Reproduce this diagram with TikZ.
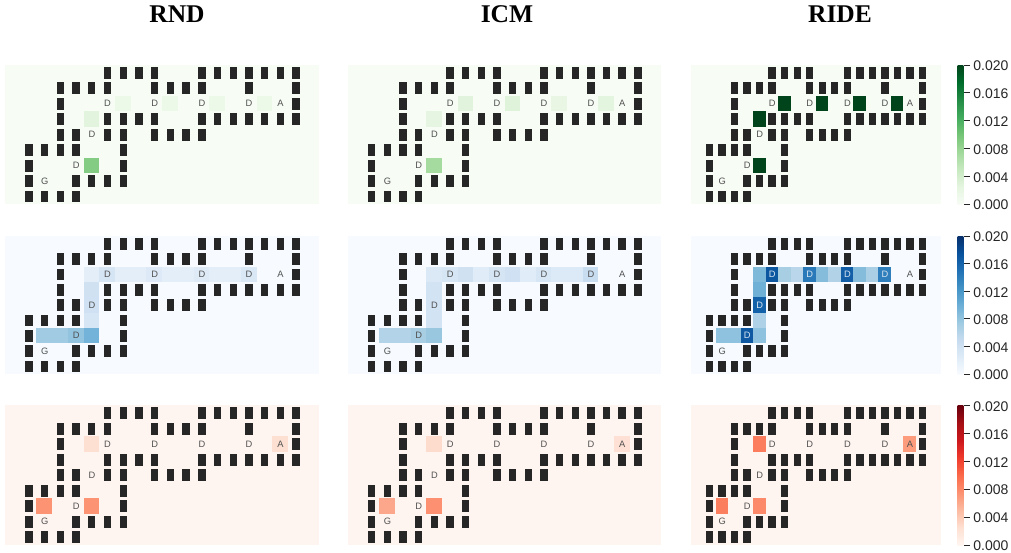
\documentclass[tikz,border=0pt]{standalone}
\usepackage{fontspec}
\setmainfont{Liberation Sans}
\newfontfamily\titlefont{Liberation Serif}[BoldFont={Liberation Serif Bold}]
\definecolor{wallc}{HTML}{262626}
\definecolor{labc}{HTML}{505050}
\definecolor{labl}{HTML}{D8E6F2}
\definecolor{gA}{HTML}{F7FCF5}\definecolor{gB}{HTML}{E5F5E0}\definecolor{gC}{HTML}{C7E9C0}
\definecolor{gD}{HTML}{A1D99B}\definecolor{gE}{HTML}{74C476}\definecolor{gF}{HTML}{41AB5D}
\definecolor{gG}{HTML}{238B45}\definecolor{gH}{HTML}{006D2C}\definecolor{gI}{HTML}{00441B}
\definecolor{bA}{HTML}{F7FBFF}\definecolor{bB}{HTML}{DEEBF7}\definecolor{bC}{HTML}{C6DBEF}
\definecolor{bD}{HTML}{9ECAE1}\definecolor{bE}{HTML}{6BAED6}\definecolor{bF}{HTML}{4292C6}
\definecolor{bG}{HTML}{2171B5}\definecolor{bH}{HTML}{08519C}\definecolor{bI}{HTML}{08306B}
\definecolor{rA}{HTML}{FFF5F0}\definecolor{rB}{HTML}{FEE0D2}\definecolor{rC}{HTML}{FCBBA1}
\definecolor{rD}{HTML}{FC9272}\definecolor{rE}{HTML}{FB6A4A}\definecolor{rF}{HTML}{EF3B2C}
\definecolor{rG}{HTML}{CB181D}\definecolor{rH}{HTML}{A50F15}\definecolor{rI}{HTML}{67000D}
\newcommand{\declbar}[2]{\pgfdeclareverticalshading{#1}{100bp}{color(0bp)=(#2A); color(25bp)=(#2A); color(31.25bp)=(#2B); color(37.5bp)=(#2C); color(43.75bp)=(#2D); color(50bp)=(#2E); color(56.25bp)=(#2F); color(62.5bp)=(#2G); color(68.75bp)=(#2H); color(75bp)=(#2I); color(100bp)=(#2I)}}
\declbar{greensbar}{g}
\declbar{bluesbar}{b}
\declbar{redsbar}{r}
% wall cells: column/row
\newcommand{\wallcells}{6/0,7/0,8/0,9/0,12/0,13/0,14/0,15/0,16/0,17/0,18/0,
3/1,4/1,5/1,6/1,9/1,10/1,11/1,12/1,15/1,18/1,
3/2,18/2,
3/3,6/3,7/3,8/3,9/3,12/3,13/3,14/3,15/3,16/3,17/3,18/3,
3/4,4/4,6/4,7/4,9/4,10/4,11/4,12/4,
1/5,2/5,3/5,4/5,7/5,
1/6,7/6,
1/7,4/7,5/7,6/7,7/7,
1/8,2/8,3/8,4/8}
\tikzset{
  wall/.style={fill=wallc,draw=none},
  celltext/.style={font=\fontsize{9.3}{9.3}\selectfont,inner sep=0pt,anchor=center},
  title/.style={font=\titlefont\bfseries\fontsize{25.5}{26}\selectfont,text=black,inner sep=0pt,anchor=base},
  ticklab/.style={font=\fontsize{14}{14}\selectfont,text=wallc,anchor=west,inner sep=0pt},
  tickline/.style={draw=wallc,line width=0.9pt}
}
% #1 id, #2 x0, #3 y0, #4 cell w, #5 cell h, #6 background, #7 cells col/row/html, #8 colour of the D letters
\newcommand{\panel}[8]{
  \fill[#6] (#2,#3) rectangle ++({20*#4},{9*#5});
  \foreach \c/\r/\h in {#7}{
    \definecolor{cellc}{HTML}{\h}
    \fill[cellc] ({#2+\c*#4},{#3+\r*#5}) rectangle ++(#4,#5);
  }
  \foreach \c/\r in \wallcells{
    \fill[wall] ({#2+(\c+.5)*#4+.3-3.7},{#3+(\r+.5)*#5+.2-5.9}) rectangle ++(7.4,11.8);
  }
  \foreach \c/\r in {6/2,9/2,12/2,15/2,5/4,4/6}{
    \node[celltext,text=#8] (d-#1-\c-\r) at ({#2+(\c+.5)*#4+.4},{#3+(\r+.5)*#5}) {D};
  }
  \node[celltext,text=labc] (a-#1) at ({#2+17.5*#4+.4},{#3+2.5*#5}) {A};
  \node[celltext,text=labc] (g-#1) at ({#2+2.5*#4+.4},{#3+7.5*#5}) {G};
}
% #1 id, #2 top y, #3 height, #4 shading
\newcommand{\cbar}[4]{
  \shade[shading=#4] (957.7,#2) rectangle (963.3,{#2+#3});
  \foreach \i/\t in {0/0.020,1/0.016,2/0.012,3/0.008,4/0.004,5/0.000}{
    \draw[tickline] (964,{#2+\i*#3/5}) -- (969.5,{#2+\i*#3/5});
    \node[ticklab] (cb-#1-\i) at (973.2,{#2+\i*#3/5+1}) {\t};
  }
}
\begin{document}
\begin{tikzpicture}[x=1pt,y=-1pt]
\useasboundingbox (0,0) rectangle (1011,552);
\node[title] (t1) at (177,22) {RND};
\node[title] (t2) at (507,22) {ICM};
\node[title] (t3) at (840,22) {RIDE};
% greens
\panel{g1}{5}{65}{15.72}{15.45}{gA}{7/2/ECF8E8,10/2/ECF8E8,13/2/ECF8E8,16/2/ECF8E8,5/3/E2F4DD,5/6/84CC83}{labc}
\panel{g2}{348}{65}{15.65}{15.45}{gA}{7/2/E1F3DC,10/2/DFF3DA,13/2/E8F6E3,16/2/E4F5DF,5/3/E6F5E1,5/6/A5DB9F}{labc}
\panel{g3}{690.5}{65}{12.52}{15.45}{gA}{7/2/00441B,10/2/00441B,13/2/00441B,16/2/00441B,5/3/00441B,5/6/00441B}{labc}
% blues
\panel{b1}{5}{236}{15.72}{15.33}{bA}{2/6/A0CBE3,3/6/A0CBE3,4/6/92C4E0,5/6/74B3D9,5/5/D6E6F4,5/4/CFE1F2,5/3/D0E1F2,5/2/E3EEF9,6/2/D6E5F4,7/2/E3EEF9,8/2/E3EEF9,9/2/DDE9F6,10/2/E3EEF9,11/2/E3EEF9,12/2/DEEBF7,13/2/E3EEF9,14/2/E3EEF9,15/2/DAE8F5}{labc}
\panel{b2}{348}{236}{15.65}{15.33}{bA}{2/6/B3D3E8,3/6/B3D3E8,4/6/A8CEE4,5/6/99C7E0,5/5/D2E3F3,5/4/D2E3F3,5/3/D2E3F3,5/2/DBE9F6,6/2/D6E6F4,7/2/D0E1F2,8/2/E0ECF8,9/2/D6E5F4,10/2/CFE1F2,11/2/E0ECF8,12/2/D6E6F4,13/2/DCE9F6,14/2/DCE9F6,15/2/C9DDF0}{labc}
\panel{b3}{690.5}{236}{12.52}{15.33}{bA}{2/6/8FC2DE,3/6/8FC2DE,4/6/0E59A2,5/6/8FC2DE,5/5/AFD1E7,5/4/1361A9,5/3/6FB0D7,5/2/7FB9DA,6/2/0D57A1,7/2/A8CEE4,8/2/BAD6EB,9/2/2A7AB9,10/2/85BCDC,11/2/B2D2E8,12/2/135FA7,13/2/85BCDC,14/2/ABD0E6,15/2/2F7FBC}{labl}
% reds
\panel{r1}{5}{405.4}{15.72}{15.5}{rA}{5/2/FEE0D2,17/2/FEE0D2,2/6/FC9474,5/6/FC9474}{labc}
\panel{r2}{348}{405.4}{15.65}{15.5}{rA}{5/2/FEDCCD,17/2/FEE1D4,2/6/FCA68B,5/6/FC9070}{labc}
\panel{r3}{690.5}{405.4}{12.52}{15.5}{rA}{5/2/FB7D5D,17/2/FC9C7D,2/6/FB7F5F,5/6/FC8A6A}{labc}
% colour bars
\cbar{g}{65}{139}{greensbar}
\cbar{b}{236}{138}{bluesbar}
\cbar{r}{405.4}{139.6}{redsbar}
\end{tikzpicture}
\end{document}
